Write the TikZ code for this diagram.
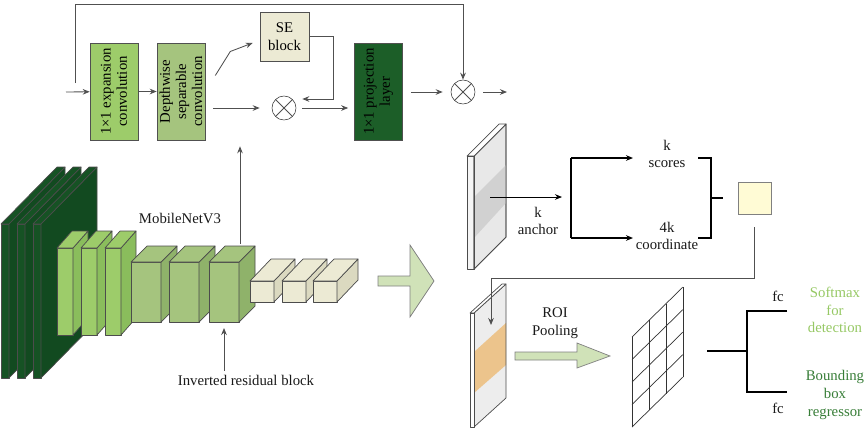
\documentclass[tikz,border=0pt]{standalone}
\usepackage{fontspec}
\setmainfont{Liberation Serif}
\usetikzlibrary{arrows.meta,positioning}
\definecolor{leafgreen}{RGB}{157,204,106}
\definecolor{leafside}{RGB}{138,189,92}
\definecolor{sagegreen}{RGB}{165,196,126}
\definecolor{sageside}{RGB}{143,178,106}
\definecolor{pinegreen}{RGB}{22,82,36}
\definecolor{pineside}{RGB}{18,74,32}
\definecolor{projgreen}{RGB}{28,94,40}
\definecolor{sand}{RGB}{236,234,212}
\definecolor{sandside}{RGB}{219,217,192}
\definecolor{arrowfill}{RGB}{208,226,184}
\definecolor{orangeband}{RGB}{236,196,140}
\definecolor{propyellow}{RGB}{255,251,213}
\definecolor{linegray}{RGB}{80,80,80}
\definecolor{softgreen}{RGB}{150,200,100}
\definecolor{regressgreen}{RGB}{55,125,55}

\begin{document}
\begin{tikzpicture}[
      x=0.025cm,y=-0.025cm,
      box/.style={rectangle,draw=linegray,rotate=90,minimum width=2.425cm,minimum height=1.2cm,align=center,inner sep=0.5pt,font=\fontsize{10.5}{11.5}\selectfont},
      sebox/.style={rectangle,draw=linegray,fill=sand,minimum size=1.225cm,align=center,font=\fontsize{10.5}{12.5}\selectfont},
      mul/.style={circle,draw=black!80,minimum size=0.6cm,inner sep=0pt},
      lbl/.style={align=center,inner sep=0pt,font=\fontsize{10.5}{12.5}\selectfont,text=black!90},
      conn/.style={linegray,line width=0.6pt},
      bold/.style={black,line width=1.2pt},
      cube/.style={draw=black!70,line width=0.5pt,line join=round},
      blockarrow/.style={draw=gray,fill=arrowfill,line width=0.5pt},
      >={Stealth[length=5pt,width=4pt]}
    ]
    \useasboundingbox (0,0) rectangle (864,429);

    % inverted residual block
    \node[box,fill=leafgreen] (exp) at (114,91.5) {1×1 expansion\\convolution};
    \node[box,fill=sagegreen] (dws) at (181,91.5) {Depthwise\\separable\\convolution};
    \node[box,fill=projgreen] (proj) at (378.5,91.5) {1×1 projection\\layer};
    \node[sebox] (se) at (284.5,36.5) {SE\\block};
    \node[mul] (mul1) at (284,108) {};
    \node[mul] (mul2) at (463,92) {};
    \draw[conn] (mul1.north west) -- (mul1.south east) (mul1.north east) -- (mul1.south west);
    \draw[conn] (mul2.north west) -- (mul2.south east) (mul2.north east) -- (mul2.south west);

    \coordinate (in) at (66,92);
    \coordinate (skip) at (75,83);
    \coordinate (out) at (507,92);
    \draw[conn,->] (in) -- (exp);
    \draw[conn,->] (exp) -- (dws);
    \draw[conn,->] (skip) -- ++(0,-79) -| (mul2);
    \draw[conn,->,shorten <=0.2cm,shorten >=0.3cm] (mul1 -| dws.south) -- (mul1);
    \draw[conn,->] ([xshift=0.25cm,yshift=0.4cm]dws.south) -- ++(15,-24) -- ([xshift=-0.175cm,yshift=-0.16cm]se.west);
    \draw[conn,->] (se.east) -- ++(24,0) |- ([xshift=0.15cm,yshift=0.225cm]mul1.east);
    \draw[conn,->,shorten <=0.15cm,shorten >=0.15cm] (mul1) -- (mul1 -| proj.north);
    \draw[conn,->,shorten <=0.2cm,shorten >=0.2cm] (mul2 -| proj.south) -- (mul2);
    \draw[conn,->,shorten <=0.2cm] (mul2) -- (out);

    % MobileNetV3 backbone
    \foreach \x in {1,17,33}{
      \draw[cube,fill=pinegreen] (\x,224) rectangle ++(8,154);
      \draw[cube,fill=pineside] (\x+8,224) -- ++(56,-57) -- ++(0,154) -- ++(-56,57) -- cycle;
      \draw[cube,fill=pinegreen] (\x,224) -- ++(56,-57) -- ++(8,0) -- ++(-56,57) -- cycle;
    }
    \foreach \x in {57,81,105}{
      \draw[cube,fill=leafgreen] (\x,248) rectangle ++(16,87);
      \draw[cube,fill=leafside] (\x+16,248) -- ++(15,-17) -- ++(0,87) -- ++(-15,17) -- cycle;
      \draw[cube,fill=leafgreen] (\x,248) -- ++(15,-17) -- ++(16,0) -- ++(-15,17) -- cycle;
    }
    \foreach \x in {131,169,209}{
      \draw[cube,fill=sagegreen] (\x,262) rectangle ++(30,60);
      \draw[cube,fill=sageside] (\x+30,262) -- ++(16,-16) -- ++(0,60) -- ++(-16,16) -- cycle;
      \draw[cube,fill=sagegreen] (\x,262) -- ++(16,-16) -- ++(30,0) -- ++(-16,16) -- cycle;
    }
    \foreach \x in {250,282,313}{
      \draw[cube,fill=sand] (\x,281) rectangle ++(24,21);
      \draw[cube,fill=sandside] (\x+24,281) -- ++(21,-22) -- ++(0,21) -- ++(-21,22) -- cycle;
      \draw[cube,fill=sand] (\x,281) -- ++(21,-22) -- ++(24,0) -- ++(-21,22) -- cycle;
    }
    \node[lbl] (mnet) at (180,218) {MobileNetV3};
    \node[lbl] (irb) at (246,380) {Inverted residual block};
    \coordinate (c3top) at (240,244);
    \coordinate (c3bot) at (224,328);
    \draw[conn,->,shorten >=0.15cm] (c3top) -- (c3top |- dws.west);
    \draw[conn,->] (irb.north -| c3bot) ++(0,-4) -- (c3bot);

    \draw[blockarrow] (378,276) -- (410,276) -- (410,245) -- (434,281) -- (410,317) -- (410,286) -- (378,286) -- cycle;

    % region proposal network
    \fill[white!96!black] (467,156) rectangle (474,269);
    \draw[cube,fill=black!9] (474,156) -- (506,124) -- (506,237) -- (474,269) -- cycle;
    \fill[black!18] (474,197) -- (506,165) -- (506,203) -- (474,238) -- cycle;
    \draw[cube] (474,156) -- (506,124) -- (506,237) -- (474,269) -- cycle;
    \draw[cube,fill=white] (467,156) -- (499,124) -- (506,124) -- (474,156) -- cycle;
    \draw[cube] (467,156) rectangle (474,269);

    \coordinate (fmapc) at (490,197);
    \coordinate (brtop) at (571,158);
    \coordinate (brbot) at (571,238);
    \node[lbl] (anchor) at (538,221) {k\\anchor};
    \node[lbl] (scores) at (667,154) {k\\scores};
    \node[lbl] (coord) at (667,236) {4k\\coordinate};
    \draw[black,line width=0.6pt,->] (fmapc) -- ++(72,0);
    \draw[bold] (brtop) -- (brbot);
    \draw[bold,->] (brtop) -- ++(62,0);
    \draw[bold,->] (brbot) -- ++(62,0);

    \coordinate (rbtop) at (698,158);
    \coordinate (rbbot) at (698,238);
    \coordinate (rbmid) at (711,198);
    \draw[bold] (rbtop) -- ++(13,0) |- (rbbot);
    \draw[bold] (rbmid) -- ++(12,0);
    \node[rectangle,draw=gray,fill=propyellow,minimum width=0.825cm,minimum height=0.8cm] (prop) at (754.5,198) {};

    % ROI pooling
    \coordinate (roiin) at (491,325);
    \fill[white!93!black] (474,313) -- (506,284) -- (506,398) -- (474,427) -- cycle;
    \fill[orangeband] (474,352) -- (506,323) -- (506,365) -- (474,393) -- cycle;
    \draw[cube] (474,313) -- (506,284) -- (506,398) -- (474,427) -- cycle;
    \draw[cube,fill=white] (470,313) -- (502,284) -- (506,284) -- (474,313) -- cycle;
    \draw[cube,fill=white] (470,313) rectangle (474,427);
    \draw[conn,->] ([yshift=-0.325cm]prop.south) -- ++(0,51) -| (roiin);

    \node[lbl] (roi) at (555,323) {ROI\\Pooling};
    \draw[blockarrow] (515,352) -- (577,352) -- (577,343) -- (610,356) -- (577,368) -- (577,360) -- (515,360) -- cycle;

    \foreach \i in {0,...,3}
      \draw[black!80,line width=0.5pt] (632+\i*17,337-\i*16.67) -- ++(0,90);
    \foreach \j in {0,...,4}
      \draw[black!80,line width=0.5pt] (632,337+\j*22.5) -- ++(51,-50);

    % detection heads
    \coordinate (brin) at (707,351);
    \coordinate (fork) at (747,351);
    \coordinate (fcout1) at (787,311);
    \coordinate (fcout2) at (787,392);
    \draw[bold] (brin) -- (fork);
    \draw[bold] (fcout1) -| (fork) |- (fcout2);
    \node[lbl] (fc1) at (778,296) {fc};
    \node[lbl] (fc2) at (778,408) {fc};
    \node[lbl,text=softgreen] (soft) at (835,310) {Softmax\\for\\detection};
    \node[lbl,text=regressgreen] (bbox) at (835,395) {Bounding\\box\\regressor};
  \end{tikzpicture}
\end{document}
